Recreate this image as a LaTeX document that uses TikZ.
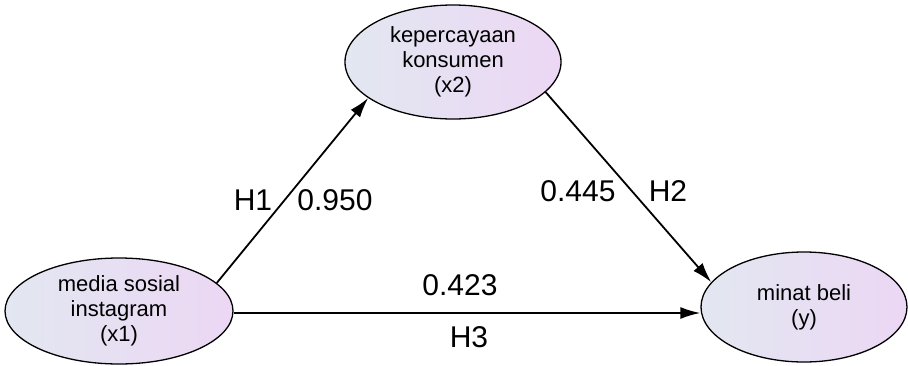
\documentclass[tikz,border=0pt]{standalone}
\usepackage{fontspec}
\setmainfont{Liberation Sans}
\usetikzlibrary{shapes.geometric,arrows.meta}
\definecolor{elleft}{RGB}{226,231,241}
\definecolor{elright}{RGB}{236,215,244}

\begin{document}
\begin{tikzpicture}[x=1pt,y=-1pt,
    latent/.style={ellipse, draw, line width=1.3pt, left color=elleft, right color=elright,
        inner sep=0pt, align=center, font=\fontsize{22}{25}\selectfont},
    path/.style={line width=1.8pt, -{Latex[length=20pt,width=12pt]}},
    coef/.style={font=\fontsize{30}{34}\selectfont}]

    \useasboundingbox (0,0) rectangle (908,365);

    % Draw the three latent variables
    \node[latent, minimum width=228pt, minimum height=106pt] (sosmed) at (119,311) {media sosial\\instagram\\(x1)};
    \node[latent, minimum width=216pt, minimum height=114pt] (percaya) at (453,62) {kepercayaan\\konsumen\\(x2)};
    \node[latent, minimum width=206pt, minimum height=110pt] (minat) at (804,307) {minat beli\\(y)};

    % Draw the paths
    \draw[path] (sosmed.16) -- (percaya.203);
    \draw[path] (percaya.-18) -- (minat.165);
    \draw[path] ([yshift=-2pt]sosmed.east) -- ([yshift=-6pt]minat.west);

    \node[coef] (h1) at (253,200) {H1};
    \node[coef] (b1) at (335,200) {0.950};
    \node[coef] (b2) at (578,191) {0.445};
    \node[coef] (h2) at (668,191) {H2};
    \node[coef] (b3) at (460,285) {0.423};
    \node[coef] (h3) at (469,337) {H3};

\end{tikzpicture}
\end{document}
